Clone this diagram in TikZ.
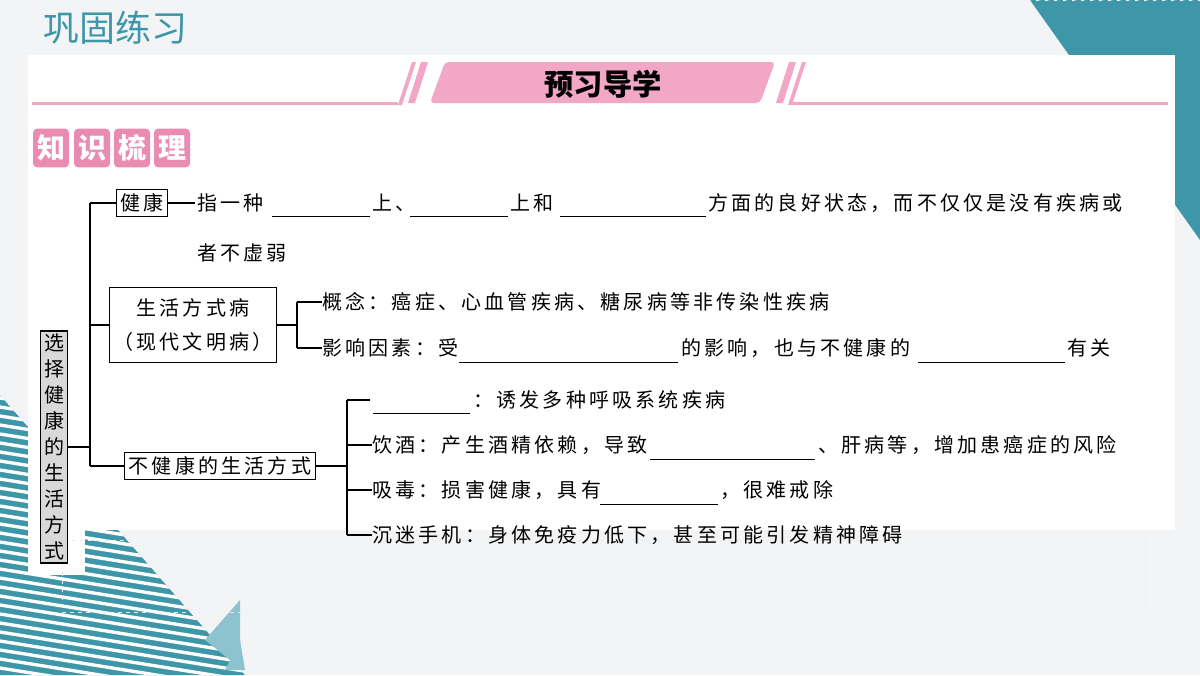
\documentclass[tikz,border=0pt]{standalone}
\usepackage{fontspec}
\setmainfont{Noto Sans CJK SC}
\newfontfamily\cjksp[LetterSpace=16]{Noto Sans CJK SC}
\begin{document}
\definecolor{bg}{HTML}{F3F4F5}
\definecolor{teal}{HTML}{3E97A8}
\definecolor{lteal}{HTML}{8CC3CE}
\definecolor{pinkb}{HTML}{F2A7C6}
\definecolor{pinkd}{HTML}{E98BB3}
\begin{tikzpicture}[x=0.75pt,y=-0.75pt,
  txt/.style={anchor=west,inner sep=0pt,font=\cjksp\fontsize{15}{18}\selectfont},
  box/.style={draw,line width=0.8pt,inner sep=3pt,font=\cjksp\fontsize{15}{18}\selectfont,fill=white},
  ln/.style={line width=1pt},
  blank/.style={line width=0.7pt},
  tag/.style={fill=pinkd,rounded corners=3pt,minimum height=29pt,inner sep=0pt,text=white,font=\fontsize{21}{22}\bfseries\selectfont}]
\useasboundingbox (0,0) rectangle (1200,675);
\fill[bg] (0,0) rectangle (1200,675);
% decorations
\begin{scope}
\clip (1030,0)--(1200,0)--(1200,240)--cycle;
\fill[teal] (1030,0)--(1200,0)--(1200,240)--cycle;
\foreach \i in {0,...,30}{\draw[white,line width=2pt] (1000+\i*9,0)--(1200+\i*9,-60);}
\end{scope}
\begin{scope}
\clip (0,395)--(0,675)--(245,675)--cycle;
\fill[teal] (0,395)--(0,675)--(245,675)--cycle;
\foreach \i in {0,...,40}{\draw[white,line width=2.5pt] (0,380+\i*9)--(250,420+\i*9);}
\end{scope}
\fill[lteal] (240,600)--(205,640)--(240,668)--cycle;
\fill[lteal] (240,640)--(225,670)--(245,670)--cycle;
% panel
\fill[white] (28,55) rectangle (1175,530);
\fill[white] (28,530) rectangle (85,575);
\draw[white!85!gray,dashed] (62,540) rectangle (1145,612);
% title
\node[anchor=west,inner sep=0pt,text=teal,font=\fontsize{27}{30}\selectfont] (title) at (43,28) {巩固练习};
% banner
\fill[pinkb,rounded corners=3pt] (445,62)--(775,62)--(760,103)--(430,103)--cycle;
\node[font=\fontsize{22}{24}\bfseries\selectfont] (ban) at (603,84) {预习导学};
\fill[pinkb] (32,102) rectangle (398,105);
\fill[pinkb] (398,105)--(412,62)--(416,62)--(402,105)--cycle;
\fill[pinkb] (408,103)--(421,62)--(428,62)--(415,103)--cycle;
\fill[pinkb] (790,102) rectangle (1168,105);
\fill[pinkb] (776,103)--(789,62)--(796,62)--(783,103)--cycle;
\fill[pinkb] (788,105)--(802,62)--(806,62)--(792,105)--cycle;
% tags
\foreach \c/\x [count=\k] in {知/51,识/92,梳/132,理/172}{\node[tag,minimum width=27pt] (t\k) at (\x,148) {\c};}
% tree
\node[box,fill=black!15,inner sep=2pt,minimum width=20pt,minimum height=174pt,align=center,font=\fontsize{15}{19.5}\selectfont] (root) at (54,447) {选\\择\\健\\康\\的\\生\\活\\方\\式};
\coordinate (tr) at (90,447);
\coordinate (tt) at (90,203);
\coordinate (tb) at (90,466);
\draw[ln] (root.east)--(tr);
\draw[ln] (tt)--(tb);
\node[box] (jk) at (142,203) {健康};
\node[box,align=center,minimum width=118pt,minimum height=56pt,font=\cjksp\fontsize{15}{26}\selectfont] (shfs) at (193,325) {生活方式病\\（现代文明病）};
\node[box] (bjk) at (220,466) {不健康的生活方式};
\draw[ln] (tt)--(jk.west);
\draw[ln] (90,325)--(shfs.west);
\draw[ln] (tb)--(bjk.west);
% health line
\coordinate (j1) at (195,203);
\draw[ln] (jk.east)--(j1);
\node[txt] (a1) at (197,203) {指一种};
\draw[blank] (272,216)--(370,216);
\node[txt] (a2) at (372,203) {上、};
\draw[blank] (410,216)--(508,216);
\node[txt] (a3) at (510,203) {上和};
\draw[blank] (560,216)--(706,216);
\node[txt] (a4) at (708,203) {方面的良好状态，而不仅仅是没有疾病或};
\node[txt] (a5) at (197,253) {者不虚弱};
% shfs branches
\coordinate (s0) at (297,325);
\coordinate (s1) at (297,302);
\coordinate (s2) at (297,348);
\draw[ln] (shfs.east)--(s0);
\draw[ln] (s1)--(s2);
\node[txt] (b1) at (322,302) {概念：癌症、心血管疾病、糖尿病等非传染性疾病};
\node[txt] (b2) at (322,348) {影响因素：受};
\draw[ln] (s1)--(b1.west);
\draw[ln] (s2)--(b2.west);
\draw[blank] (459,362)--(678,362);
\node[txt] (b3) at (681,348) {的影响，也与不健康的};
\draw[blank] (918,362)--(1065,362);
\node[txt] (b4) at (1067,348) {有关};
% bjk branches
\coordinate (u0) at (347,466);
\coordinate (u1) at (347,400);
\coordinate (u4) at (347,535);
\draw[ln] (bjk.east)--(u0);
\draw[ln] (u1)--(u4);
\coordinate (c1) at (370,400);
\draw[ln] (u1)--(c1);
\draw[blank] (373,413)--(470,413);
\node[txt] (d1) at (473,400) {：诱发多种呼吸系统疾病};
\node[txt] (d2) at (372,445) {饮酒：产生酒精依赖，导致};
\draw[blank] (650,459)--(815,459);
\node[txt] (d3) at (818,445) {、肝病等，增加患癌症的风险};
\node[txt] (d4) at (372,490) {吸毒：损害健康，具有};
\draw[blank] (600,504)--(718,504);
\node[txt] (d5) at (720,490) {，很难戒除};
\node[txt] (d6) at (372,535) {沉迷手机：身体免疫力低下，甚至可能引发精神障碍};
\draw[ln] (347,445)--(d2.west);
\draw[ln] (347,490)--(d4.west);
\draw[ln] (u4)--(d6.west);
\end{tikzpicture}
\end{document}
